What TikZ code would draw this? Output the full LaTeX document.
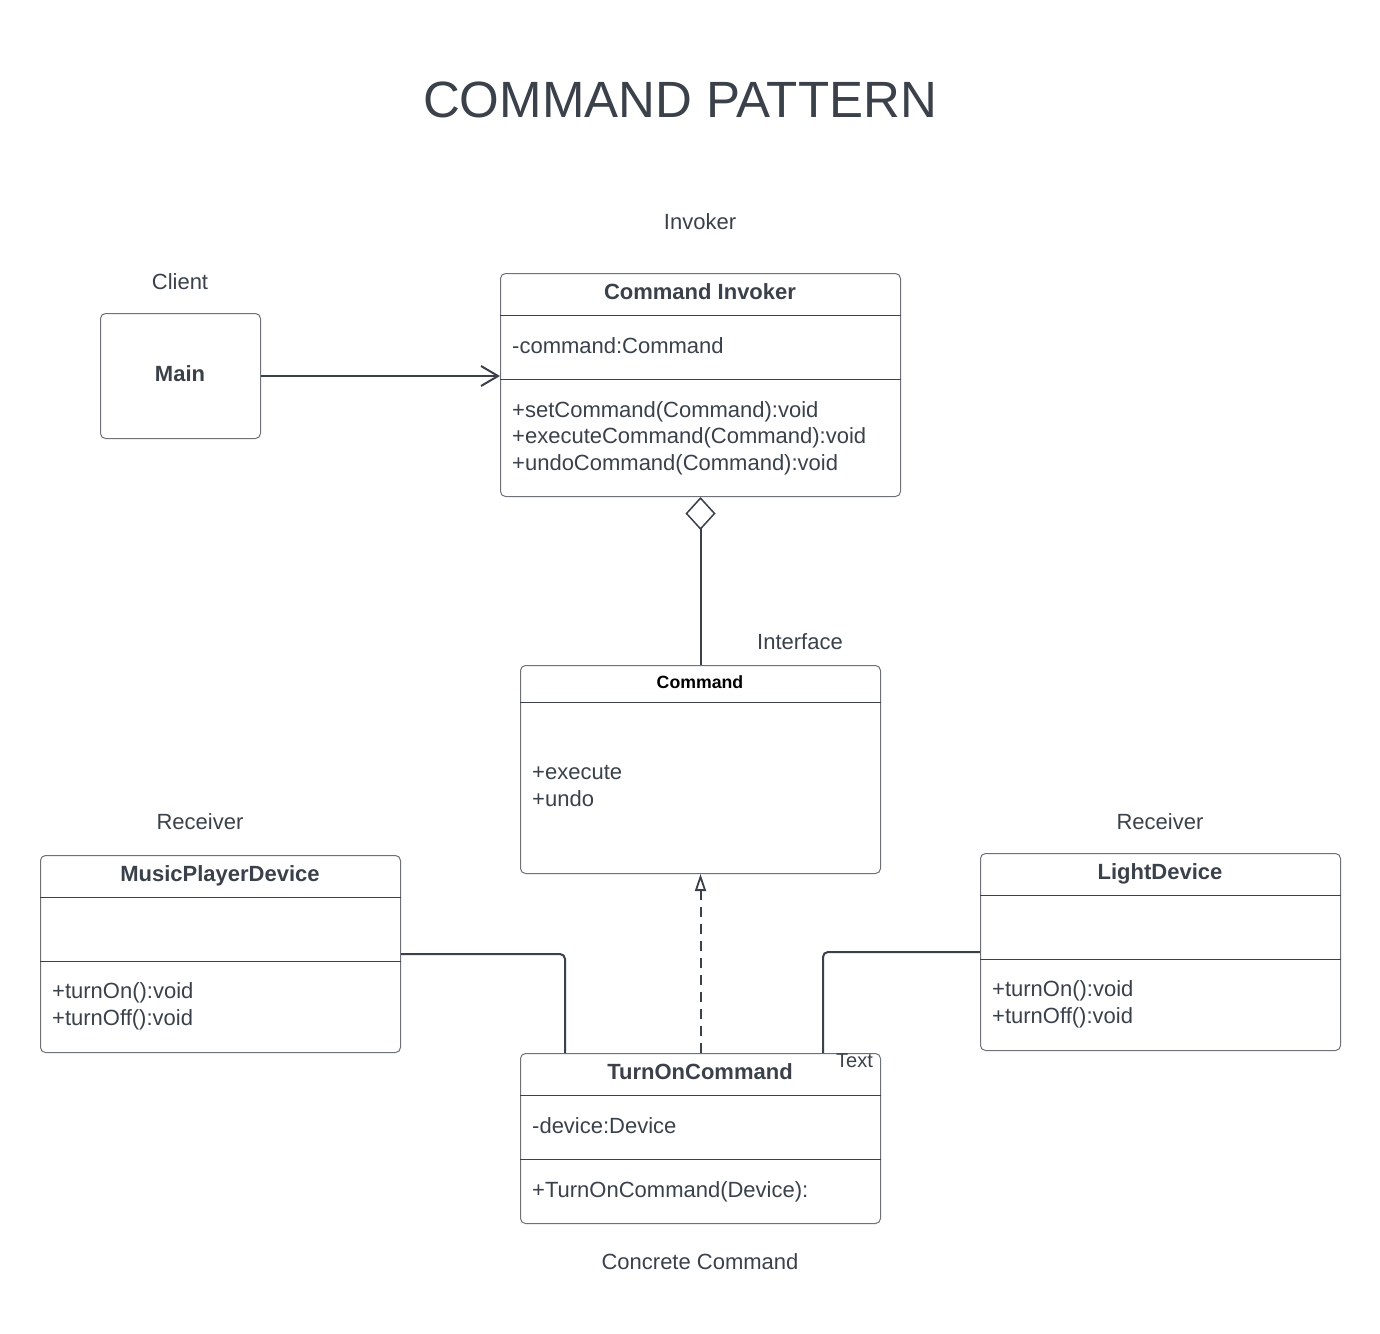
\documentclass[tikz,border=0pt]{standalone}
\usepackage{fontspec}
\setmainfont{Liberation Sans}
\usetikzlibrary{arrows.meta}
\definecolor{ink}{RGB}{58,65,74}
\definecolor{boxline}{RGB}{110,114,120}
\tikzset{
  umlbox/.style={draw=boxline, line width=1pt, rounded corners=5pt, anchor=north west, inner sep=0pt, fill=white},
  divider/.style={draw=ink, line width=1pt},
  conn/.style={draw=ink, line width=2pt},
  txt/.style={text=ink, font=\fontsize{22}{26}\selectfont, inner sep=0pt},
  btxt/.style={text=ink, font=\fontsize{22}{26}\selectfont\bfseries, inner sep=0pt},
}
\begin{document}
\begin{tikzpicture}[x=1pt,y=-1pt]
\useasboundingbox (0,0) rectangle (1380,1333);
\fill[white] (0,0) rectangle (1380,1333);

% title
\node[text=ink, font=\fontsize{51}{60}\selectfont, inner sep=0pt, anchor=base] (title) at (680,117) {COMMAND PATTERN};

% labels
\node[txt, anchor=base] (lInvoker) at (700,229) {Invoker};
\node[txt, anchor=base] (lClient) at (180,289) {Client};
\node[txt, anchor=base] (lInterface) at (800,649) {Interface};
\node[txt, anchor=base] (lRecL) at (200,829) {Receiver};
\node[txt, anchor=base] (lRecR) at (1160,829) {Receiver};
\node[txt, anchor=base] (lConcrete) at (700,1269) {Concrete Command};

% Main
\node[umlbox, minimum width=160pt, minimum height=125pt] (main) at (100,313) {};
\node[btxt, anchor=base] (mainT) at (180,381) {Main};

% Command Invoker
\node[umlbox, minimum width=400pt, minimum height=223pt] (inv) at (500,273) {};
\draw[divider] (inv.west |- 0,315) -- (inv.east |- 0,315);
\draw[divider] (inv.west |- 0,379) -- (inv.east |- 0,379);
\node[btxt, anchor=base] (invT) at (700,299) {Command Invoker};
\node[txt, anchor=base west] (invA) at (512,353) {-command:Command};
\node[txt, anchor=base west] (invM1) at (512,417) {+setCommand(Command):void};
\node[txt, anchor=base west] (invM2) at (512,443.5) {+executeCommand(Command):void};
\node[txt, anchor=base west] (invM3) at (512,470) {+undoCommand(Command):void};

% Command interface
\node[umlbox, minimum width=360pt, minimum height=208pt] (cmd) at (520,665) {};
\draw[divider] (cmd.west |- 0,702) -- (cmd.east |- 0,702);
\node[text=black, font=\fontsize{17.7}{21}\selectfont\bfseries, inner sep=0pt, anchor=base] (cmdT) at (700,688) {Command};
\node[txt, anchor=base west] (cmdM1) at (532,779) {+execute};
\node[txt, anchor=base west] (cmdM2) at (532,806) {+undo};

% MusicPlayerDevice
\node[umlbox, minimum width=360pt, minimum height=197pt] (music) at (40,855) {};
\draw[divider] (music.west |- 0,897) -- (music.east |- 0,897);
\draw[divider] (music.west |- 0,961) -- (music.east |- 0,961);
\node[btxt, anchor=base] (musicT) at (220,881.5) {MusicPlayerDevice};
\node[txt, anchor=base west] (musicM1) at (52,998.5) {+turnOn():void};
\node[txt, anchor=base west] (musicM2) at (52,1025) {+turnOff():void};

% LightDevice
\node[umlbox, minimum width=360pt, minimum height=197pt] (light) at (980,853) {};
\draw[divider] (light.west |- 0,895) -- (light.east |- 0,895);
\draw[divider] (light.west |- 0,959) -- (light.east |- 0,959);
\node[btxt, anchor=base] (lightT) at (1160,879.5) {LightDevice};
\node[txt, anchor=base west] (lightM1) at (992,996.5) {+turnOn():void};
\node[txt, anchor=base west] (lightM2) at (992,1023) {+turnOff():void};

% TurnOnCommand
\node[umlbox, minimum width=360pt, minimum height=170pt] (turn) at (520,1053) {};
\draw[divider] (turn.west |- 0,1095) -- (turn.east |- 0,1095);
\draw[divider] (turn.west |- 0,1159) -- (turn.east |- 0,1159);
\node[btxt, anchor=base] (turnT) at (700,1079) {TurnOnCommand};
\node[txt, anchor=base west] (turnA) at (532,1133) {-device:Device};
\node[txt, anchor=base west] (turnM) at (532,1197) {+TurnOnCommand(Device):};

% connectors
\draw[conn, -{Straight Barb[length=17pt,width=20pt]}] (main.east) -- (main.east -| inv.west);
\draw[conn, {Diamond[open,length=33pt,width=30pt,line width=1.5pt]}-] (inv.south) -- (cmd.north);
\draw[conn, dash pattern=on 10pt off 7pt, -{Triangle[open,length=17pt,width=11pt,line width=1.8pt]}] (turn.north) -- (cmd.south);
\draw[conn, rounded corners=5pt] (music.east) -| ([xshift=45pt]turn.north west);
\draw[conn, rounded corners=5pt] (light.west) -| ([xshift=-58pt]turn.north east);

\node[text=ink, font=\fontsize{20}{24}\selectfont, inner sep=0pt, anchor=base west] (txtlbl) at (836,1067) {Text};
\end{tikzpicture}
\end{document}
